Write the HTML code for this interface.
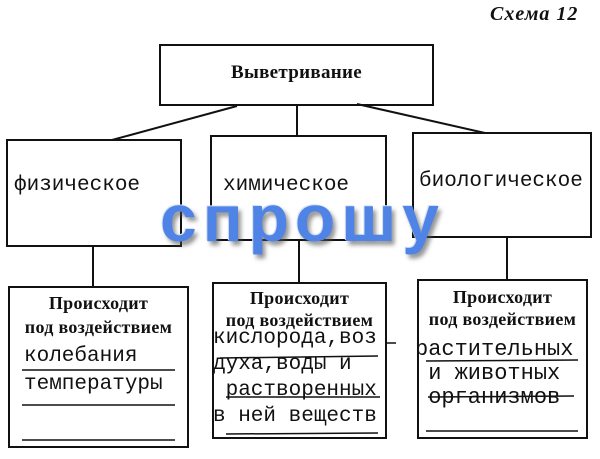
<!DOCTYPE html>
<html><head><meta charset="utf-8"><style>
body{margin:0;width:600px;height:459px;background:#fff;position:relative;overflow:hidden}
.t{position:absolute;white-space:nowrap;color:#111}
.m{font-family:"Liberation Mono",monospace;font-size:21px}
.s{font-family:"Liberation Serif",serif;font-weight:bold;font-size:18px;text-align:center;letter-spacing:0.3px}
</style></head><body>
<svg width="600" height="459" style="position:absolute;left:0;top:0" stroke="#111" stroke-width="2" fill="none">
<rect x="160" y="45" width="273" height="60"/>
<line x1="237" y1="106" x2="112" y2="140"/>
<line x1="297" y1="106" x2="297" y2="136"/>
<line x1="357" y1="104" x2="485" y2="133"/>
<rect x="7" y="140" width="174" height="106"/>
<rect x="211" y="136" width="175" height="104"/>
<rect x="413" y="133" width="178" height="104"/>
<line x1="93" y1="246" x2="93" y2="287"/>
<line x1="299" y1="240" x2="299" y2="283"/>
<line x1="507" y1="237" x2="507" y2="280"/>
<rect x="9" y="287" width="179" height="160"/>
<rect x="213" y="283" width="173" height="155"/>
<rect x="418" y="280" width="169" height="158"/>
<g stroke-width="1.5">
<line x1="22" y1="370" x2="175" y2="370"/>
<line x1="22" y1="405" x2="175" y2="405"/>
<line x1="22" y1="440" x2="175" y2="440"/>
<line x1="220" y1="358" x2="378" y2="356"/>
<line x1="226" y1="397" x2="380" y2="397"/>
<line x1="226" y1="434" x2="378" y2="433"/>
<line x1="386" y1="343" x2="396" y2="343"/>
<line x1="426" y1="361" x2="578" y2="360"/>
<line x1="428" y1="397" x2="574" y2="396"/>
<line x1="426" y1="431" x2="578" y2="431"/>
</g>
</svg>
<div class="t" style="left:490px;top:3px;font-family:'Liberation Serif',serif;font-weight:bold;font-style:italic;font-size:20px;letter-spacing:1px">Схема 12</div>
<div class="t s" style="left:160px;top:62px;width:273px;font-size:19px">Выветривание</div>
<div class="t m" style="left:14px;top:174px">физическое</div>
<div class="t m" style="left:223px;top:174px">химическое</div>
<div class="t m" style="left:419px;top:170px">биологическое</div>
<div class="t s" style="left:9px;top:291px;width:179px;line-height:24px">Происходит<br>под воздействием</div>
<div class="t s" style="left:213px;top:287px;width:173px;line-height:22px">Происходит<br>под воздействием</div>
<div class="t s" style="left:418px;top:286px;width:169px;line-height:22px">Происходит<br>под воздействием</div>
<div class="t m" style="left:24px;top:345px">колебания</div>
<div class="t m" style="left:24px;top:373px">температуры</div>
<div class="t m" style="left:213px;top:326px;line-height:26px">кислорода,воз<br>духа,воды и<br>&nbsp;растворенных<br>в ней веществ</div>
<div class="t m" style="left:415px;top:338px;line-height:24px;font-size:22px">растительных<br>&nbsp;и животных<br>&nbsp;организмов</div>
<div class="t" style="left:160px;top:180px;font-family:'Liberation Sans',sans-serif;font-weight:bold;font-size:66px;letter-spacing:6px;color:#4f84e6;text-shadow:3px 4px 4px rgba(80,80,80,0.6),-1px -1px 0 #d8e4fa">спрошу</div>
</body></html>
